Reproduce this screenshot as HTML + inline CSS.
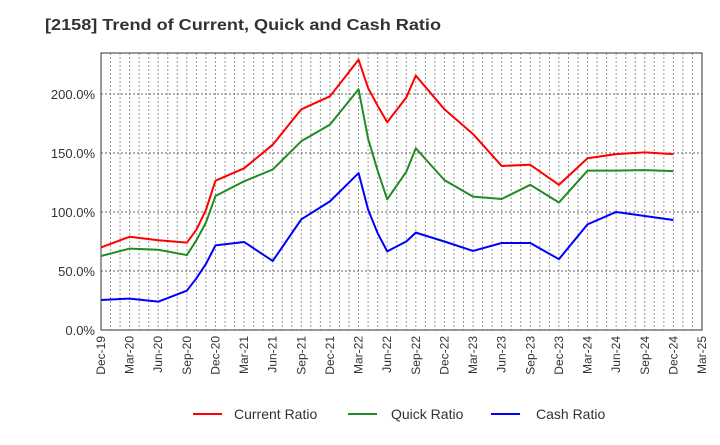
<!DOCTYPE html>
<html><head><meta charset="utf-8"><style>
body{margin:0;background:#fff;}
svg{font-family:"Liberation Sans",sans-serif;}
</style></head><body>
<svg id="chart" width="720" height="440" xmlns="http://www.w3.org/2000/svg">
<text x="45" y="30" font-size="16" font-weight="bold" fill="#333" textLength="396" lengthAdjust="spacingAndGlyphs">[2158]  Trend of Current, Quick and Cash Ratio</text>
<g id="grid"></g>
<g id="axes"></g>
<g id="series"></g>
<g>
 <g><line x1="193" y1="414" x2="222" y2="414" stroke="#ff0000" stroke-width="2"/><text x="234" y="419" font-size="14" fill="#333">Current Ratio</text></g>
 <g><line x1="348" y1="414" x2="377" y2="414" stroke="#228b22" stroke-width="2"/><text x="391" y="419" font-size="14" fill="#333">Quick Ratio</text></g>
 <g><line x1="491" y1="414" x2="520" y2="414" stroke="#0000ff" stroke-width="2"/><text x="536" y="419" font-size="14" fill="#333">Cash Ratio</text></g>
</g>
</svg>
<script>
const tickLabels=["Dec-19","Mar-20","Jun-20","Sep-20","Dec-20","Mar-21","Jun-21","Sep-21","Dec-21","Mar-22","Jun-22","Sep-22","Dec-22","Mar-23","Jun-23","Sep-23","Dec-23","Mar-24","Jun-24","Sep-24","Dec-24","Mar-25"];
const yTicks=[0,50,100,150,200];
const months=[0,3,6,9,10,11,12,15,18,21,24,27,28,29,30,32,33,36,39,42,45,48,51,54,57,60];
const currentRatio=[70,79,76,74,85,101.7,126.5,137,157,187,198,229,205,190,176,197,215.5,187,166,139,140,123,145.5,149,150.5,149];
const quickRatio=[62.7,69,68,63.5,76,91,113.5,126,136,160,174,204,162,135,110.7,134,154,127,113,111,123,108,135,135,135.5,134.6];
const cashRatio=[25.4,26.6,24,33.3,43.8,56,71.7,74.6,58.5,93.8,109,133,102,82,66.6,75,82.5,75,67,73.7,73.7,60,89.5,100,96.6,93.2];
const NS="http://www.w3.org/2000/svg";
const L=101,R=702,T=53,B=330,maxM=63,maxY=234.7;
const xs=m=>L+(R-L)*m/maxM;
const ys=v=>B-(B-T)*v/maxY;
function mk(tag,attrs,parent){const e=document.createElementNS(NS,tag);for(const k in attrs)e.setAttribute(k,attrs[k]);parent.appendChild(e);return e;}
const grid=document.getElementById('grid'),axes=document.getElementById('axes'),series=document.getElementById('series');
for(let m=1;m<maxM;m++){
 const g=mk('line',{x1:xs(m),x2:xs(m),y1:T,y2:B,stroke:'#999','stroke-width':1,'stroke-dasharray':'2,2'},grid);
 
 
}
yTicks.forEach(v=>{
 if(v>0){const g=mk('line',{x1:L,x2:R,y1:ys(v),y2:ys(v),stroke:'#666','stroke-width':1,'stroke-dasharray':'2,2'},grid);
 
 }
 const t=mk('text',{x:L-6,y:ys(v)+5,'text-anchor':'end','font-size':13,fill:'#333'},axes);
 t.textContent=v.toFixed(1)+'%';
 
 
});
tickLabels.forEach((lab,i)=>{
 const x=xs(i*3);
 const t=mk('text',{x:0,y:0,'text-anchor':'end','font-size':12,fill:'#333',transform:`translate(${x+4},${B+6}) rotate(-90)`},axes);
 t.textContent=lab;
 
 
});
const frame=mk('rect',{x:L,y:T,width:R-L,height:B-T,fill:'none',stroke:'#333','stroke-width':1},axes);


[[currentRatio,'#ff0000','current-ratio-line'],[quickRatio,'#228b22','quick-ratio-line'],[cashRatio,'#0000ff','cash-ratio-line']].forEach(([vals,c,n])=>{
 const p=mk('polyline',{points:vals.map((v,i)=>xs(months[i])+','+ys(v)).join(' '),fill:'none',stroke:c,'stroke-width':2,'stroke-linejoin':'round'},series);
 
 
});
</script>
</body></html>
